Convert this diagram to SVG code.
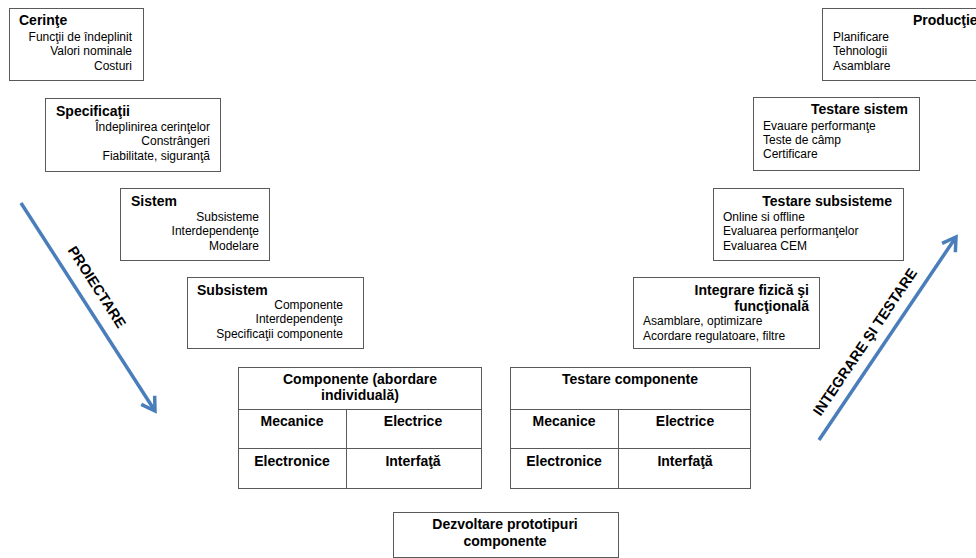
<svg xmlns="http://www.w3.org/2000/svg" width="976" height="558" viewBox="0 0 976 558">
  <style>
    .box { fill: #ffffff; stroke: #5a5a5a; stroke-width: 1; }
    .grid { stroke: #5a5a5a; stroke-width: 1; fill: none; }
    text { font-family: "Liberation Sans", Arial, sans-serif; fill: #000000; }
    .t { font-size: 14px; font-weight: bold; }
    .l { font-size: 12px; }
    .r { text-anchor: end; }
    .m { text-anchor: middle; }
    .flow { stroke: #4a7ebb; stroke-width: 3.5; fill: none; marker-end: url(#vhead); }
    .flowlbl { font-size: 14.5px; font-weight: bold; text-anchor: middle; }
  </style>
  <defs>
    <marker id="vhead" markerUnits="userSpaceOnUse" markerWidth="30" markerHeight="30" refX="0" refY="0" orient="auto" overflow="visible">
      <path d="M-13,-8 L0,0 L-13,8" fill="none" stroke="#4a7ebb" stroke-width="3.5" stroke-linejoin="miter"/>
    </marker>
  </defs>
  <rect width="976" height="558" fill="#ffffff"/>

  <!-- design side -->
  <g id="cerinte">
    <rect class="box" x="9.5" y="8.5" width="134" height="72"/>
    <text class="t" x="19" y="25">Cerinţe</text>
    <text class="l r" x="132" y="41">Funcţii de  îndeplinit</text>
    <text class="l r" x="132" y="55">Valori nominale</text>
    <text class="l r" x="132" y="70">Costuri</text>
  </g>

  <g id="specificatii">
    <rect class="box" x="45.5" y="98.5" width="175" height="73"/>
    <text class="t" x="56" y="116">Specificaţii</text>
    <text class="l r" x="210" y="131">Îndeplinirea cerinţelor</text>
    <text class="l r" x="210" y="145">Constrângeri</text>
    <text class="l r" x="210" y="160">Fiabilitate, siguranţă</text>
  </g>

  <g id="sistem">
    <rect class="box" x="120.5" y="188.5" width="149" height="72"/>
    <text class="t" x="131" y="206">Sistem</text>
    <text class="l r" x="259" y="221">Subsisteme</text>
    <text class="l r" x="259" y="235">Interdependenţe</text>
    <text class="l r" x="259" y="250">Modelare</text>
  </g>

  <g id="subsistem">
    <rect class="box" x="187.5" y="277.5" width="176" height="71"/>
    <text class="t" x="197" y="295">Subsistem</text>
    <text class="l r" x="343" y="309">Componente</text>
    <text class="l r" x="343" y="323">Interdependenţe</text>
    <text class="l r" x="343" y="338">Specificaţii componente</text>
  </g>

  <g id="componente">
    <rect class="box" x="238.5" y="367.5" width="243" height="121"/>
    <path class="grid" d="M238.5,409.5 H481.5 M238.5,448.5 H481.5 M346.5,409.5 V488.5"/>
    <text class="t m" x="360" y="384">Componente (abordare</text>
    <text class="t m" x="360" y="400">individuală)</text>
    <text class="t m" x="292" y="426">Mecanice</text>
    <text class="t m" x="413" y="426">Electrice</text>
    <text class="t m" x="292" y="466">Electronice</text>
    <text class="t m" x="413" y="466">Interfaţă</text>
  </g>

  <!-- test side -->
  <g id="testare-componente">
    <rect class="box" x="510.5" y="367.5" width="240" height="121"/>
    <path class="grid" d="M510.5,409.5 H750.5 M510.5,448.5 H750.5 M618.5,409.5 V488.5"/>
    <text class="t m" x="630" y="384">Testare componente</text>
    <text class="t m" x="564" y="426">Mecanice</text>
    <text class="t m" x="685" y="426">Electrice</text>
    <text class="t m" x="564" y="466">Electronice</text>
    <text class="t m" x="685" y="466">Interfaţă</text>
  </g>

  <g id="prototipuri">
    <rect class="box" x="393.5" y="512.5" width="225" height="45"/>
    <text class="t m" x="505" y="529">Dezvoltare prototipuri</text>
    <text class="t m" x="505" y="546">componente</text>
  </g>

  <g id="integrare">
    <rect class="box" x="633.5" y="277.5" width="186" height="71"/>
    <text class="t r" x="809" y="295">Integrare fizică şi</text>
    <text class="t r" x="809" y="311">funcţională</text>
    <text class="l" x="643" y="325">Asamblare, optimizare</text>
    <text class="l" x="643" y="340">Acordare regulatoare, filtre</text>
  </g>

  <g id="testare-subsisteme">
    <rect class="box" x="713.5" y="188.5" width="190" height="72"/>
    <text class="t r" x="892" y="206">Testare subsisteme</text>
    <text class="l" x="723" y="221">Online si offline</text>
    <text class="l" x="723" y="235">Evaluarea performanţelor</text>
    <text class="l" x="723" y="250">Evaluarea CEM</text>
  </g>

  <g id="testare-sistem">
    <rect class="box" x="753.5" y="97.5" width="166" height="73"/>
    <text class="t r" x="908" y="114">Testare sistem</text>
    <text class="l" x="763" y="130">Evauare performanţe</text>
    <text class="l" x="763" y="144">Teste de câmp</text>
    <text class="l" x="763" y="158">Certificare</text>
  </g>

  <g id="productie">
    <rect class="box" x="822.5" y="8.5" width="170" height="72"/>
    <text class="t" x="913" y="25">Producţie</text>
    <text class="l" x="833" y="41">Planificare</text>
    <text class="l" x="833" y="55">Tehnologii</text>
    <text class="l" x="833" y="70">Asamblare</text>
  </g>

  <!-- direction arrows -->
  <g id="connectors">
    <line class="flow" x1="21" y1="203" x2="155" y2="411"/>
    <line class="flow" x1="819" y1="440" x2="956" y2="237"/>
  </g>

  <g id="labels">
    <text class="flowlbl" transform="translate(97,287) rotate(57.2)" y="5">PROIECTARE</text>
    <text class="flowlbl" transform="translate(865,342) rotate(-56)" y="5">INTEGRARE ŞI TESTARE</text>
  </g>
</svg>
